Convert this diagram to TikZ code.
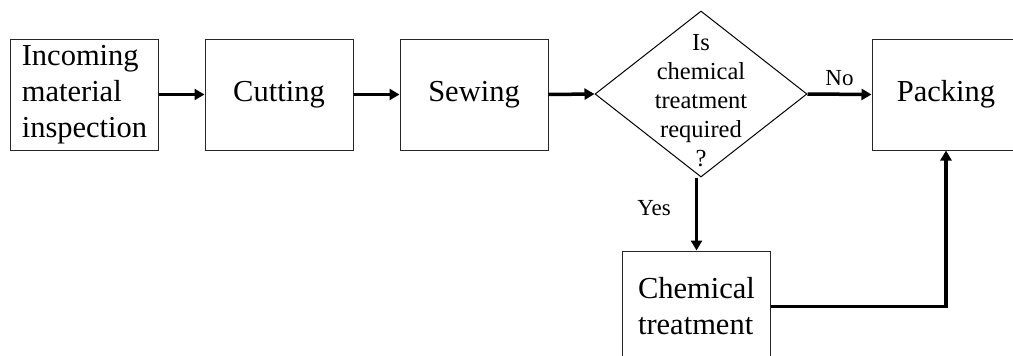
\documentclass[tikz,border=0pt]{standalone}
\usepackage{fontspec}
\setmainfont{Liberation Serif}
\usetikzlibrary{arrows.meta,shapes.geometric}
\begin{document}
\begin{tikzpicture}[x=1pt,y=-1pt,
  box/.style={draw=black!85, line width=1pt, minimum width=148pt, minimum height=111pt,
    inner sep=0pt, font=\fontsize{30.5}{36}\selectfont, align=left},
  decision/.style={draw=black, line width=1pt, diamond, minimum width=212pt,
    minimum height=166pt, inner sep=0pt},
  dtext/.style={font=\fontsize{24.5}{29}\selectfont, align=center, inner sep=0pt},
  lbl/.style={font=\fontsize{23}{27}\selectfont, inner sep=0pt},
  flow/.style={line width=3.5pt, -{Triangle[length=10pt,width=11pt]}}
]
\useasboundingbox (0,0) rectangle (1013,356);
\clip (0,0) rectangle (1013,356);
\node[box] (inc) at (84.5,94.5) {Incoming\\material\\inspection};
\node[box] (cut) at (279,94.5) {Cutting};
\node[box] (sew) at (474,94.5) {Sewing};
\node[decision] (dec) at (701,94) {};
\node[dtext] (q) at (701,101) {Is\\chemical\\treatment\\required\\?};
\node[box] (pack) at (946,94.5) {Packing};
\node[box] (chem) at (696.5,306.5) {Chemical\\treatment};
\draw[flow] (inc.east) -- (cut.west);
\draw[flow] (cut.east) -- (sew.west);
\draw[flow] (sew.east) -- (dec.west);
\draw[flow] (dec.east) -- node[lbl, above=7pt] (no) {No} (pack.west);
\draw[flow] (chem.north |- dec.south) -- node[lbl, pos=0.42, left=24pt] (yes) {Yes} (chem.north);
\draw[flow] (chem.east) -| (pack.south);
\end{tikzpicture}
\end{document}
